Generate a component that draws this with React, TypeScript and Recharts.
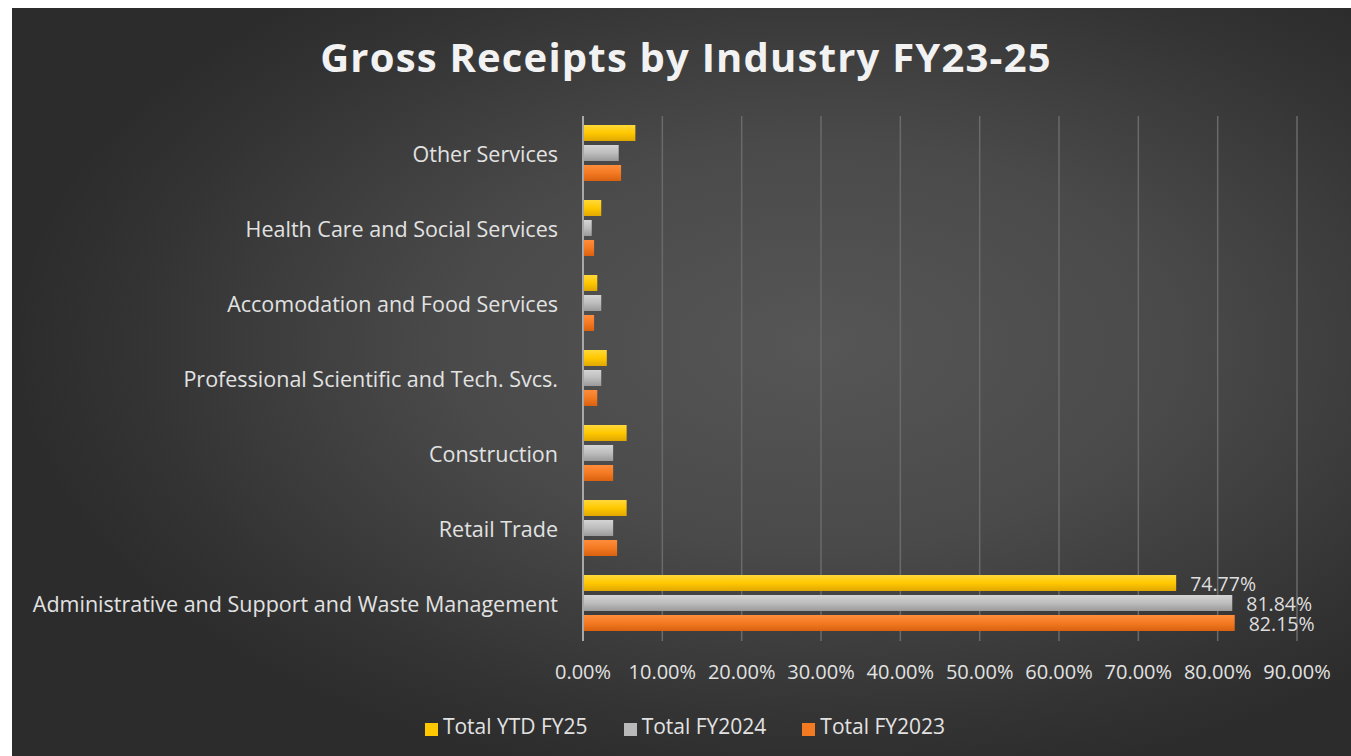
import React from 'react';
import { BarChart, Bar, XAxis, YAxis, CartesianGrid, LabelList } from 'recharts';

const categories = [
  'Other Services',
  'Health Care and Social Services',
  'Accomodation and Food Services',
  'Professional Scientific and Tech. Svcs.',
  'Construction',
  'Retail Trade',
  'Administrative and Support and Waste Management',
];
const ytdFY25 = [6.6, 2.3, 1.8, 3.0, 5.5, 5.5, 74.77];
const fy2024 = [4.5, 1.1, 2.3, 2.3, 3.8, 3.8, 81.84];
const fy2023 = [4.8, 1.4, 1.4, 1.8, 3.8, 4.3, 82.15];
const xTicks = [0, 10, 20, 30, 40, 50, 60, 70, 80, 90];
const seriesNames = ['Total YTD FY25', 'Total FY2024', 'Total FY2023'];
const seriesColors = ['#ffc800', '#b9b9b9', '#f47a22'];

const data = categories.map((name, i) => ({
  name,
  fy25: ytdFY25[i],
  fy24: fy2024[i],
  fy23: fy2023[i],
}));

const FONT = '"Open Sans", Lato, sans-serif';
const fmt = (v: number) => `${v.toFixed(2)}%`;

const renderLabel = (props: any) => {
  const { x, y, width, height, value } = props;
  if (value < 50) return null;
  return (
    <text
      x={Number(x) + Number(width) + 14}
      y={Number(y) + Number(height) / 2}
      fill="#dedede"
      fontSize={19.5}
      fontFamily={FONT}
      dominantBaseline="central"
    >
      {fmt(value)}
    </text>
  );
};

const YTick = (props: any) => {
  const { y, payload } = props;
  return (
    <text
      x={558}
      y={y}
      textAnchor="end"
      dominantBaseline="central"
      fill="#e2e2e2"
      fontSize={21.5}
      fontFamily={FONT}
    >
      {payload.value}
    </text>
  );
};

export default function App() {
  return (
    <div style={{ position: 'absolute', left: 0, top: 0, width: 1351, height: 756, background: '#ffffff', overflow: 'hidden' }}>
      <div
        style={{
          position: 'absolute',
          left: 12,
          top: 8,
          width: 1339,
          height: 748,
          background: 'radial-gradient(ellipse 60% 60% at 60% 45%, #565656 0%, #4a4a4a 45%, #333333 85%, #2c2c2c 100%)',
        }}
      />
      <div
        style={{
          position: 'absolute',
          left: 0,
          top: 31,
          width: 1372,
          textAlign: 'center',
          fontFamily: FONT,
          fontWeight: 700,
          fontSize: 40,
          letterSpacing: 1.2,
          color: '#f2f2f2',
          lineHeight: '52px',
        }}
      >
        Gross Receipts by Industry FY23-25
      </div>
      <div style={{ position: 'absolute', left: 0, top: 0 }}>
        <BarChart
          width={1351}
          height={756}
          data={data}
          layout="vertical"
          margin={{ top: 116, right: 54, bottom: 55, left: 0 }}
          barCategoryGap={9}
          barGap={4}
        >
          <defs>
            <linearGradient id="gY" x1="0" y1="0" x2="0" y2="1">
              <stop offset="0%" stopColor="#ffd83a" />
              <stop offset="50%" stopColor="#ffc800" />
              <stop offset="100%" stopColor="#e0a800" />
            </linearGradient>
            <linearGradient id="gG" x1="0" y1="0" x2="0" y2="1">
              <stop offset="0%" stopColor="#d4d4d4" />
              <stop offset="50%" stopColor="#bdbdbd" />
              <stop offset="100%" stopColor="#9a9a9a" />
            </linearGradient>
            <linearGradient id="gO" x1="0" y1="0" x2="0" y2="1">
              <stop offset="0%" stopColor="#ff8d3c" />
              <stop offset="50%" stopColor="#f47a22" />
              <stop offset="100%" stopColor="#d9610f" />
            </linearGradient>
          </defs>
          <CartesianGrid horizontal={false} stroke="#6a6a6a" strokeWidth={1.5} />
          <XAxis
            type="number"
            domain={[0, 90]}
            ticks={xTicks}
            tickFormatter={fmt}
            axisLine={false}
            tickLine={false}
            tickMargin={18}
            interval={0}
            tick={{ fill: '#e2e2e2', fontSize: 20, fontFamily: FONT }}
            height={60}
          />
          <YAxis
            type="category"
            dataKey="name"
            width={583}
            axisLine={{ stroke: '#a8a8a8', strokeWidth: 2 }}
            tickLine={false}
            tick={<YTick />}
            interval={0}
          />
          <Bar dataKey="fy25" name={seriesNames[0]} fill="url(#gY)" isAnimationActive={false}>
            <LabelList dataKey="fy25" content={renderLabel} />
          </Bar>
          <Bar dataKey="fy24" name={seriesNames[1]} fill="url(#gG)" isAnimationActive={false}>
            <LabelList dataKey="fy24" content={renderLabel} />
          </Bar>
          <Bar dataKey="fy23" name={seriesNames[2]} fill="url(#gO)" isAnimationActive={false}>
            <LabelList dataKey="fy23" content={renderLabel} />
          </Bar>
        </BarChart>
      </div>
      <div
        style={{
          position: 'absolute',
          left: 0,
          top: 712,
          width: 1370,
          display: 'flex',
          justifyContent: 'center',
          gap: 36,
          fontFamily: FONT,
          fontSize: 21,
          color: '#e2e2e2',
          lineHeight: '28px',
        }}
      >
        {seriesNames.map((n, i) => (
          <div key={n} style={{ display: 'flex', alignItems: 'center' }}>
            <span
              style={{
                display: 'inline-block',
                width: 13,
                height: 13,
                background: seriesColors[i],
                marginRight: 5,
                marginTop: 6,
              }}
            />
            <span>{n}</span>
          </div>
        ))}
      </div>
    </div>
  );
}
